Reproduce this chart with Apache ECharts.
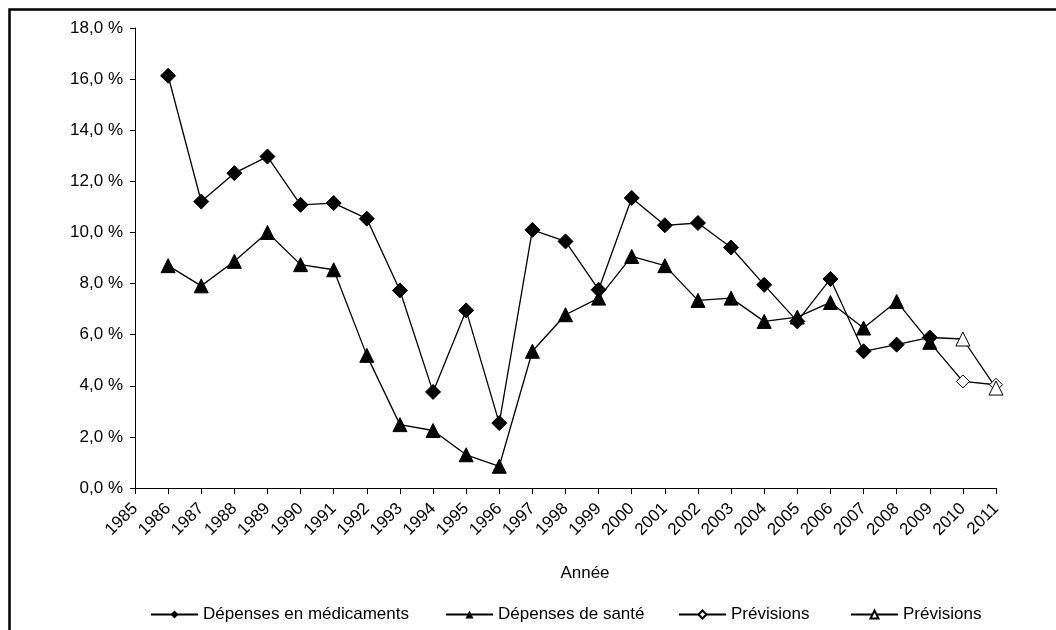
<!DOCTYPE html>
<html>
<head>
<meta charset="utf-8">
<script src="https://cdn.jsdelivr.net/npm/echarts@6/dist/echarts.min.js"></script>
<style>html,body{margin:0;padding:0;background:#fff}#c{width:1056px;height:630px}</style>
</head>
<body>
<div id="c"></div>
<script>
var years = ['1985','1986','1987','1988','1989','1990','1991','1992','1993','1994','1995','1996','1997','1998','1999','2000','2001','2002','2003','2004','2005','2006','2007','2008','2009','2010','2011'];
var medicaments = [null,16.13,11.21,12.32,12.97,11.08,11.15,10.54,7.73,3.76,6.95,2.54,10.1,9.65,7.76,11.35,10.28,10.37,9.41,7.95,6.52,8.18,5.35,5.61,5.89,null,null];
var sante = [null,8.7,7.91,8.87,10.0,8.74,8.54,5.19,2.48,2.25,1.30,0.85,5.35,6.78,7.43,9.06,8.7,7.34,7.43,6.52,6.69,7.26,6.26,7.3,5.7,null,null];
var previsionsMedic = [null,null,null,null,null,null,null,null,null,null,null,null,null,null,null,null,null,null,null,null,null,null,null,null,5.7,4.17,4.04];
var previsionsSante = [null,null,null,null,null,null,null,null,null,null,null,null,null,null,null,null,null,null,null,null,null,null,null,null,5.89,5.83,3.91];
var yTicks = {min:0, max:18, interval:2};
var names = ['Dépenses en médicaments','Dépenses de santé','Prévisions','Prévisions '];

var FONT = 'Liberation Sans, Arial, sans-serif';
function hideFirst(arr){
  return arr.map(function(v,i){
    if (v === null) return null;
    if (i === 24) return {value:v, symbol:'none'};
    return v;
  });
}
var chart = echarts.init(document.getElementById('c'), null, {renderer:'canvas'});
var legendBase = {itemWidth:47, itemHeight:10, itemGap:5, top:601, textStyle:{fontFamily:FONT, fontSize:17, color:'#000'}, formatter:function(n){return n.trim();}, selectedMode:false};
chart.setOption({
  animation:false,
  backgroundColor:'#fff',
  grid:{left:135, right:60, top:28, bottom:142, containLabel:false},
  xAxis:{
    type:'category', data:years, boundaryGap:false,
    axisLine:{show:true, lineStyle:{color:'#000', width:1}},
    axisTick:{show:true, interval:0, length:6, lineStyle:{color:'#000'}},
    axisLabel:{interval:0, rotate:45, margin:18, fontFamily:FONT, fontSize:17, color:'#000'},
    splitLine:{show:false}
  },
  yAxis:{
    type:'value', min:yTicks.min, max:yTicks.max, interval:yTicks.interval,
    axisLine:{show:true, lineStyle:{color:'#000', width:1}},
    axisTick:{show:true, length:5, lineStyle:{color:'#000'}},
    axisLabel:{margin:12, fontFamily:FONT, fontSize:17, color:'#000',
      formatter:function(v){return v.toFixed(1).replace('.',',')+' %';}},
    splitLine:{show:false}
  },
  legend:[
    Object.assign({}, legendBase, {left:145, data:[names[0]]}),
    Object.assign({}, legendBase, {left:440, data:[names[1]]}),
    Object.assign({}, legendBase, {left:673, data:[names[2]]}),
    Object.assign({}, legendBase, {left:845, data:[names[3]]})
  ],
  graphic:[
    {type:'rect', shape:{x:9.5, y:9.5, width:1100, height:700}, style:{fill:'none', stroke:'#000', lineWidth:2.5}, silent:true},
    {type:'text', style:{text:'Année', x:585, y:573, textAlign:'center', textVerticalAlign:'middle', font:'17px '+FONT, fill:'#000'}}
  ],
  series:[
    {name:names[0], type:'line', data:medicaments, symbol:'diamond', symbolSize:15, showAllSymbol:true,
      lineStyle:{color:'#000', width:1.3}, itemStyle:{color:'#000', borderColor:'#000'}, z:3},
    {name:names[1], type:'line', data:sante, symbol:'triangle', symbolSize:14, showAllSymbol:true,
      lineStyle:{color:'#000', width:1.3}, itemStyle:{color:'#000', borderColor:'#000'}, z:2},
    {name:names[2], type:'line', data:hideFirst(previsionsMedic), symbol:'diamond', symbolSize:13, showAllSymbol:true,
      lineStyle:{color:'#000', width:1.3}, itemStyle:{color:'#fff', borderColor:'#000', borderWidth:1}, z:4},
    {name:names[3], type:'line', data:hideFirst(previsionsSante), symbol:'triangle', symbolSize:14, showAllSymbol:true,
      lineStyle:{color:'#000', width:1.3}, itemStyle:{color:'#fff', borderColor:'#000', borderWidth:1}, z:4}
  ]
});
</script>
</body>
</html>
